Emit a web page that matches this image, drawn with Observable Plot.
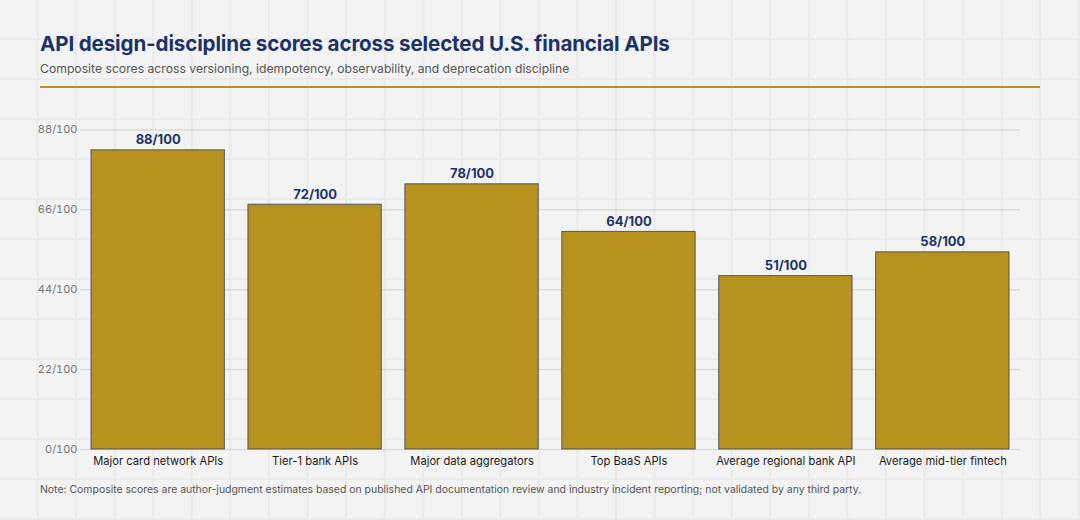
<!DOCTYPE html>
<html>
<head>
<meta charset="utf-8">
<script src="https://cdn.jsdelivr.net/npm/d3@7"></script>
<script src="https://cdn.jsdelivr.net/npm/@observablehq/plot@0.6"></script>
<style>
  html, body { margin: 0; padding: 0; }
  body {
    width: 1080px; height: 520px; overflow: hidden;
    font-family: Inter, "Noto Sans", sans-serif;
    background-color: #f3f3f3;
    background-image:
      linear-gradient(to right, transparent calc(100% - 1.5px), #eaeaea calc(100% - 1.5px)),
      linear-gradient(to bottom, transparent calc(100% - 1.5px), #eaeaea calc(100% - 1.5px));
    background-size: 38.57px 40px;
    position: relative;
  }
  #title { position: absolute; left: 40px; top: 31px; font-size: 20.6px; font-weight: 700; color: #1b3366; letter-spacing: -0.15px; }
  #subtitle { position: absolute; left: 40px; top: 61px; font-size: 12.2px; color: #555; }
  #rule { position: absolute; left: 40px; top: 86px; width: 1000px; height: 2px; background: #b8921f; }
  #chart { position: absolute; left: 0; top: 95px; }
  #note { position: absolute; left: 40px; top: 483px; font-size: 10.45px; color: #555; }
</style>
</head>
<body>
<div id="title">API design-discipline scores across selected U.S. financial APIs</div>
<div id="subtitle">Composite scores across versioning, idempotency, observability, and deprecation discipline</div>
<div id="rule"></div>
<div id="chart"></div>
<div id="note">Note: Composite scores are author-judgment estimates based on published API documentation review and industry incident reporting; not validated by any third party.</div>
<script>
const categories = ["Major card network APIs", "Tier-1 bank APIs", "Major data aggregators", "Top BaaS APIs", "Average regional bank API", "Average mid-tier fintech"];
const scores = [88, 72, 78, 64, 51, 58];
const yTickValues = [0, 23.5, 47, 70.5, 94];
const yTickLabels = ["0/100", "22/100", "44/100", "66/100", "88/100"];

const data = categories.map((c, i) => ({category: c, score: scores[i]}));

const chart = Plot.plot({
  width: 1080,
  height: 380,
  marginLeft: 80,
  marginRight: 60,
  marginTop: 14,
  marginBottom: 26,
  style: {background: "transparent", fontFamily: "Inter, 'Noto Sans', sans-serif"},
  x: {domain: categories, paddingInner: 0.15, paddingOuter: 0.07, round: false, label: null},
  y: {domain: [0, 100], label: null},
  marks: [
    Plot.ruleY(yTickValues, {stroke: "#dadada", strokeWidth: 1.5}),
    Plot.barY(data, {x: "category", y: "score", fill: "#b8921f", stroke: "#1f3a68", strokeOpacity: 0.75, strokeWidth: 1}),
    Plot.text(data, {x: "category", y: "score", text: d => d.score + "/100", dy: -6, lineAnchor: "bottom", fontWeight: 700, fontSize: 13, fill: "#1b3366"}),
    Plot.axisY({ticks: yTickValues, tickFormat: (d, i) => yTickLabels[yTickValues.indexOf(d)], tickSize: 0, tickPadding: 3, fontSize: 11, color: "#777", label: null}),
    Plot.axisX({tickSize: 0, tickPadding: 8, fontSize: 11.2, color: "#1a1a1a", label: null})
  ]
});
document.getElementById("chart").appendChild(chart);
</script>
</body>
</html>
